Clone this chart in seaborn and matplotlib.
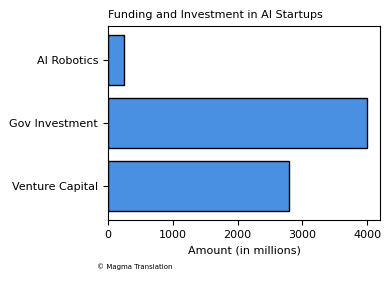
import matplotlib
matplotlib.use("Agg")
import matplotlib.pyplot as plt
import seaborn as sns
import pandas as pd

categories = ["AI Robotics", "Gov Investment", "Venture Capital"]
amounts = [250, 4000, 2800]

df = pd.DataFrame({"category": categories, "amount": amounts})

sns.set_style("ticks")
plt.rcParams['font.family'] = ['DejaVu Sans']
plt.rcParams['text.color'] = 'black'
plt.rcParams['axes.labelcolor'] = 'black'
plt.rcParams['xtick.color'] = 'black'
plt.rcParams['ytick.color'] = 'black'

fig = plt.figure(figsize=(3.91, 2.82), dpi=100)
ax = fig.add_axes([0.276, 0.22, 0.696, 0.688])
sns.barplot(data=df, x="amount", y="category", orient="h", color="#4a90e2",
            saturation=1, edgecolor="black", linewidth=1, width=0.8, ax=ax)
ax.set_ylim(2.54, -0.54)
ax.set_xlim(0, 4200)
ax.set_xticks([0, 1000, 2000, 3000, 4000])
ax.tick_params(labelsize=8)
ax.set_ylabel("")
ax.set_xlabel("Amount (in millions)", fontsize=8)
ax.set_title("Funding and Investment in AI Startups", fontsize=8, loc="left")
for s in ax.spines.values():
    s.set_visible(True)
    s.set_color("black")
fig.text(0.248, 0.045, "© Magma Translation", fontsize=5)
fig.savefig("out.png", dpi=100)
